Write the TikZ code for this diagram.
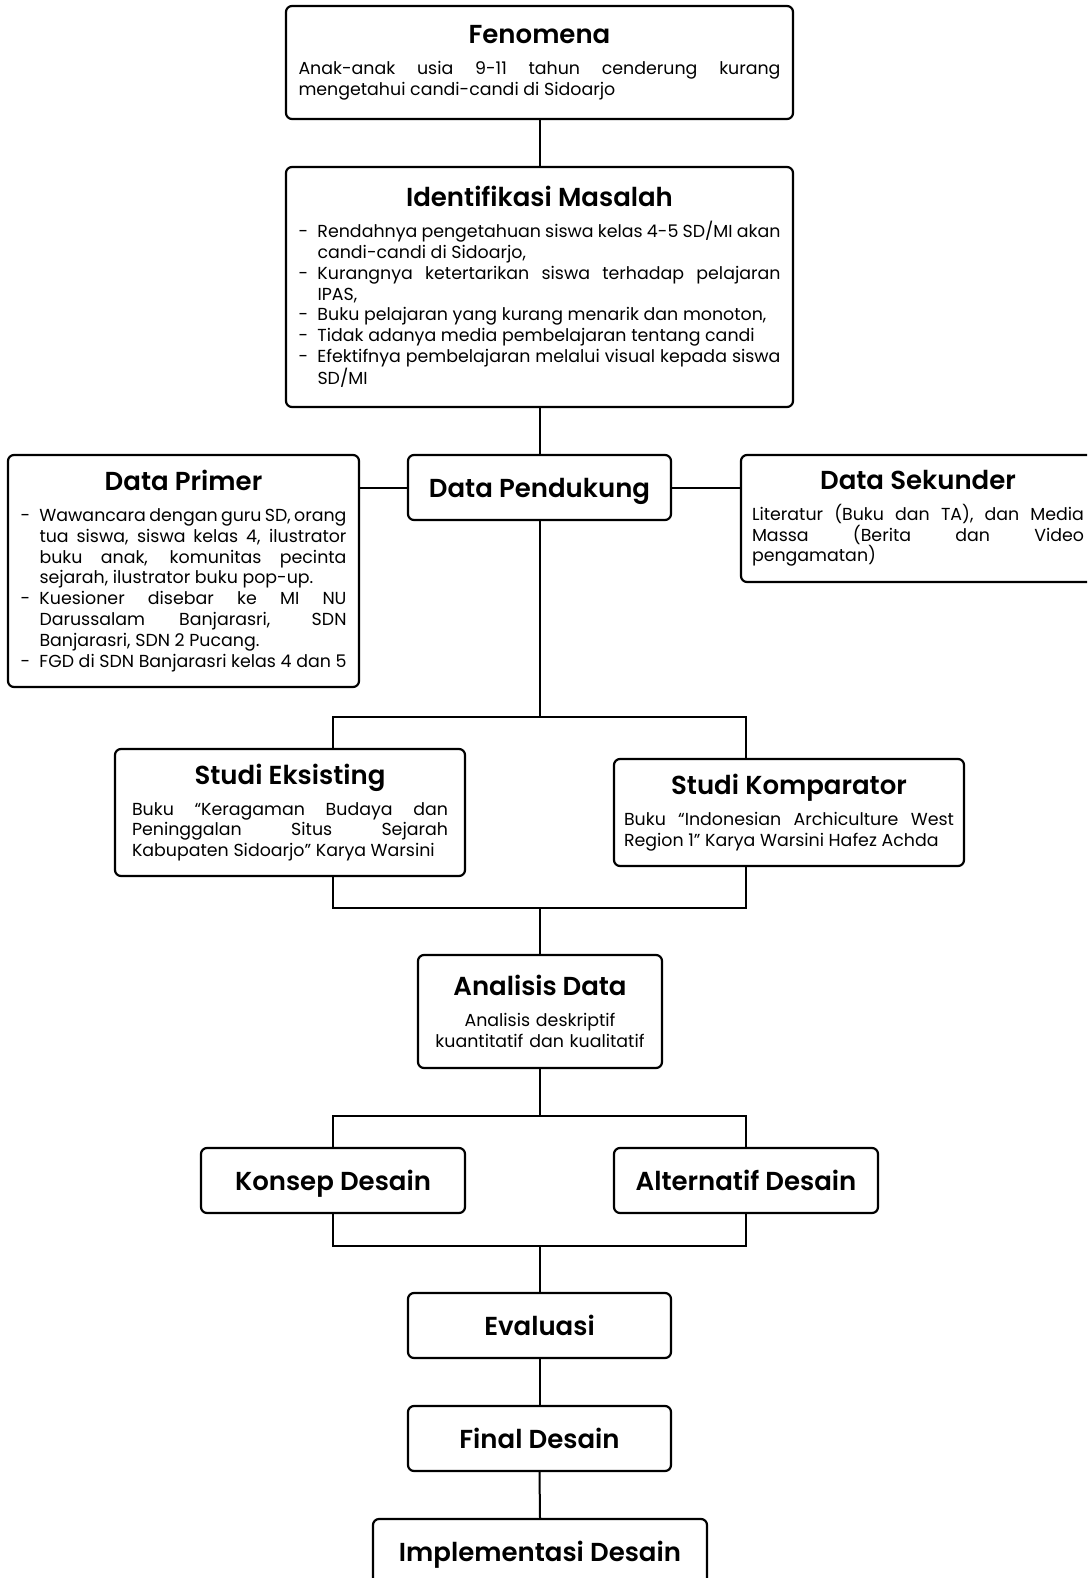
\documentclass[tikz,border=0pt]{standalone}
\usepackage{fontspec}
\setmainfont{Poppins}[BoldFont={Poppins SemiBold}]
\newcommand{\judul}[1]{{\centering\fontsize{26}{30}\selectfont\bfseries #1\par}\vspace{10pt}}
\newcommand{\butir}[1]{\hangindent=19pt\hangafter=1\noindent\makebox[19pt][l]{-}#1\par}
\newcommand{\isi}{\fontsize{17.4}{20.8}\selectfont\parindent=0pt\hyphenpenalty=10000\exhyphenpenalty=10000}

\begin{document}
\begin{tikzpicture}[x=1pt,y=-1pt]
        \tikzstyle{box}=[draw=black, line width=2.2pt, rounded corners=6pt, inner sep=0pt, fill=white]
        \tikzstyle{teks}=[box, align=justify, font=\isi]
        \tikzstyle{kecil}=[box, font=\fontsize{26}{30}\selectfont\bfseries, text height=19pt, text depth=0pt, minimum height=65pt]
        \tikzstyle{garis}=[black, line width=2pt]

        \useasboundingbox (0,0) rectangle (1087,1578);
        \clip (0,0) rectangle (1087,1578);

        \node[teks, minimum width=507pt, minimum height=113pt, text width=482pt] (fen) at (539.5,62.5)
            {\judul{Fenomena}Anak-anak usia 9-11 tahun cenderung kurang mengetahui candi-candi di Sidoarjo};
        \node[teks, minimum width=507pt, minimum height=240pt, text width=482pt] (idm) at (539.5,287)
            {\judul{Identifikasi Masalah}
            \butir{Rendahnya pengetahuan siswa kelas 4-5 SD/MI akan candi-candi di Sidoarjo,}
            \butir{Kurangnya ketertarikan siswa terhadap pelajaran IPAS,}
            \butir{Buku pelajaran yang kurang menarik dan monoton,}
            \butir{Tidak adanya media pembelajaran tentang candi}
            \butir{Efektifnya pembelajaran melalui visual kepada siswa SD/MI}};
        \node[kecil, minimum width=263pt] (dpd) at (539.5,487.5) {Data Pendukung};
        \node[teks, minimum width=351pt, minimum height=232pt, text width=326pt] (dpr) at (183.5,571)
            {\judul{Data Primer}
            \butir{Wawancara dengan guru SD, orang tua siswa, siswa kelas 4, ilustrator buku anak, komunitas pecinta sejarah, ilustrator buku pop-up.}
            \butir{Kuesioner disebar ke MI NU Darussalam Banjarasri, SDN Banjarasri, SDN 2 Pucang.}
            \butir{FGD di SDN Banjarasri kelas 4 dan 5}};
        \node[teks, minimum width=354pt, minimum height=127pt, text width=332pt] (dsk) at (918,518.5)
            {\judul{Data Sekunder}\spaceskip=3pt plus 8pt minus 1pt
            Literatur (Buku dan TA), dan Media\linebreak Massa (Berita dan Video\linebreak pengamatan)};
        \node[teks, minimum width=350pt, minimum height=127pt, text width=316pt] (ses) at (290,812.5)
            {\judul{Studi Eksisting}Buku “Keragaman Budaya dan\linebreak Peninggalan Situs Sejarah\linebreak Kabupaten Sidoarjo” Karya Warsini};
        \node[teks, minimum width=350pt, minimum height=107pt, text width=330pt] (skp) at (789,812.5)
            {\judul{Studi Komparator}Buku “Indonesian Archiculture West\linebreak Region 1” Karya Warsini Hafez Achda};
        \node[teks, align=center, minimum width=244pt, minimum height=113pt, text width=230pt] (ana) at (540,1011.5)
            {\judul{Analisis Data}Analisis deskriptif\\kuantitatif dan kualitatif};
        \node[kecil, minimum width=264pt] (kon) at (333,1180.5) {Konsep Desain};
        \node[kecil, minimum width=264pt] (alt) at (746,1180.5) {Alternatif Desain};
        \node[kecil, minimum width=263pt] (eva) at (539.5,1325.5) {Evaluasi};
        \node[kecil, minimum width=263pt] (fin) at (539.5,1438.5) {Final Desain};
        \node[kecil, minimum width=334pt, minimum height=66pt] (imp) at (540,1552) {Implementasi Desain};

        \coordinate (jA) at (333,717);
        \coordinate (jB) at (746,717);
        \coordinate (kA) at (333,908);
        \coordinate (kB) at (746,908);
        \coordinate (lA) at (333,1116);
        \coordinate (lB) at (746,1116);
        \coordinate (mA) at (333,1246);
        \coordinate (mB) at (746,1246);

        \draw[garis] (fen.south) -- (idm.north);
        \draw[garis] (idm.south) -- (dpd.north);
        \draw[garis] (dpd.west) -- (dpd.west -| dpr.east);
        \draw[garis] (dpd.east) -- (dpd.east -| dsk.west);
        \draw[garis] (dpd.south) -- (dpd.south |- jA);
        \draw[garis] (ses.north -| jA) -- (jA) -- (jB) -- (skp.north -| jB);
        \draw[garis] (ses.south -| kA) -- (kA) -- (kB) -- (skp.south -| kB);
        \draw[garis] (ana.north |- kA) -- (ana.north);
        \draw[garis] (ana.south) -- (ana.south |- lA);
        \draw[garis] (kon.north) -- (lA) -- (lB) -- (alt.north);
        \draw[garis] (kon.south) -- (mA) -- (mB) -- (alt.south);
        \draw[garis] (eva.north |- mA) -- (eva.north);
        \draw[garis] (eva.south) -- (fin.north);
        \draw[garis] (fin.south) -- (imp.north);
    \end{tikzpicture}
\end{document}
